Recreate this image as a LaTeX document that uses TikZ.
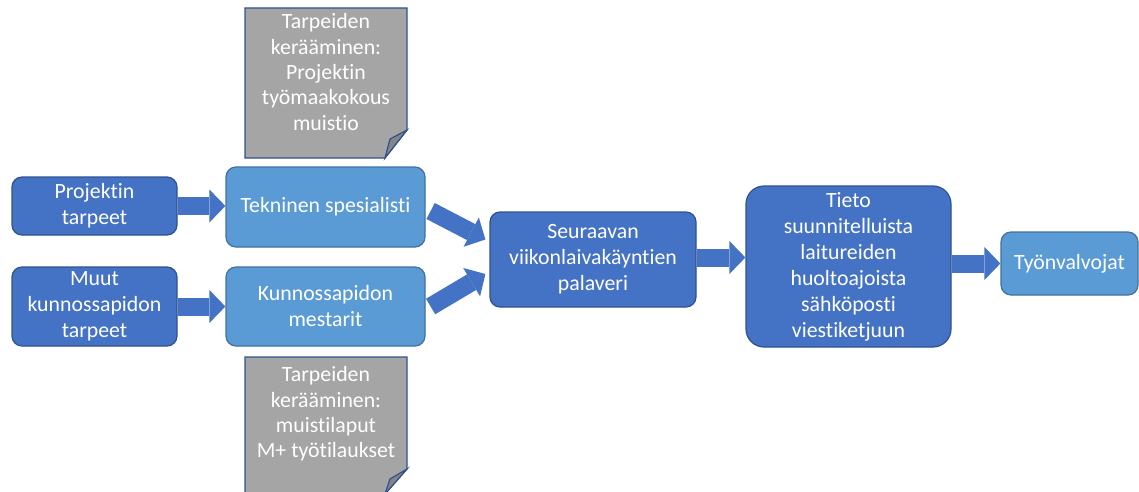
\documentclass[tikz,border=0pt]{standalone}
\usepackage{fontspec}
\setmainfont{Carlito}[Ligatures=NoCommon]
\usetikzlibrary{arrows.meta,calc}
\definecolor{dblue}{HTML}{4472C4}
\definecolor{lblue}{HTML}{5B9BD5}
\definecolor{bord}{HTML}{2F528F}
\definecolor{lbord}{HTML}{41719C}
\definecolor{notegray}{HTML}{A5A5A5}
\definecolor{foldgray}{HTML}{858585}
\begin{document}
\begin{tikzpicture}[x=1pt,y=1pt,
 box/.style={rounded corners=10pt, draw=bord, line width=1.2pt, text=white, align=center, font=\fontsize{21.8}{26}\selectfont, inner sep=0pt},
 dbox/.style={box, fill=dblue},
 lbox/.style={box, fill=lblue, draw=lbord},
 barrow/.style={draw=dblue, line width=18pt, -{Triangle[width=33pt,length=16pt,line width=0pt]}},
 note/.style={fill=notegray, draw=bord, line width=1.2pt},
 fold/.style={fill=foldgray, draw=bord, line width=1.2pt},
 notetext/.style={text=white, align=center, font=\fontsize{21.8}{25.3}\selectfont}]
\useasboundingbox (0,0) rectangle (1139,491);
\fill[white] (0,0) rectangle (1139,491);

% notes
\draw[note] (245,483) -- (407,483) -- (407,361) -- (385,333) -- (245,333) -- cycle;
\draw[fold] (407,361) -- (385,333) -- (390,352) -- cycle;
\draw[note] (245,134) -- (407,134) -- (407,22) -- (385,-3) -- (245,-3) -- cycle;
\draw[fold] (407,22) -- (385,-3) -- (390,12) -- cycle;
\node[notetext] (n1) at (326,419) {Tarpeiden\\kerääminen:\\Projektin\\työmaakokous\\muistio};
\node[notetext] (n2) at (326,77) {Tarpeiden\\kerääminen:\\muistilaput\\M+ työtilaukset};

% boxes
\node[dbox, minimum width=165pt, minimum height=58pt] (proj) at (94.5,285) {Projektin\\tarpeet};
\node[dbox, minimum width=165pt, minimum height=79pt] (muut) at (94.5,184.5) {Muut\\kunnossapidon\\tarpeet};
\node[lbox, minimum width=199pt, minimum height=80pt] (tek) at (325.5,284) {Tekninen spesialisti};
\node[lbox, minimum width=199pt, minimum height=79pt] (kun) at (325.5,184.5) {Kunnossapidon\\mestarit};
\node[dbox, minimum width=206pt, minimum height=95pt] (sea) at (593,231.5) {Seuraavan\\viikonlaivakäyntien\\palaveri};
\node[dbox, rounded corners=18pt, minimum width=205pt, minimum height=161pt] (tieto) at (848.5,224.5) {Tieto\\suunnitelluista\\laitureiden\\huoltoajoista\\sähköposti\\viestiketjuun};
\node[lbox, minimum width=137pt, minimum height=63pt] (tyo) at (1069.5,227.5) {Työnvalvojat};

% block arrows
\draw[barrow] (proj.east) -- (proj.east -| tek.west);
\draw[barrow] (muut.east) -- (muut.east -| kun.west);
\draw[barrow] ($(tek.east)+(5,-4)$) -- ($(sea.west)+(-4,20)$);
\draw[barrow] ($(kun.east)+(5,0)$) -- ($(sea.west)+(-4,-14.5)$);
\draw[barrow] ($(sea.east)+(0,2)$) -- ($(sea.east -| tieto.west)+(0,2)$);
\draw[barrow] (tieto.east |- tyo.west) -- (tyo.west);
\end{tikzpicture}
\end{document}
